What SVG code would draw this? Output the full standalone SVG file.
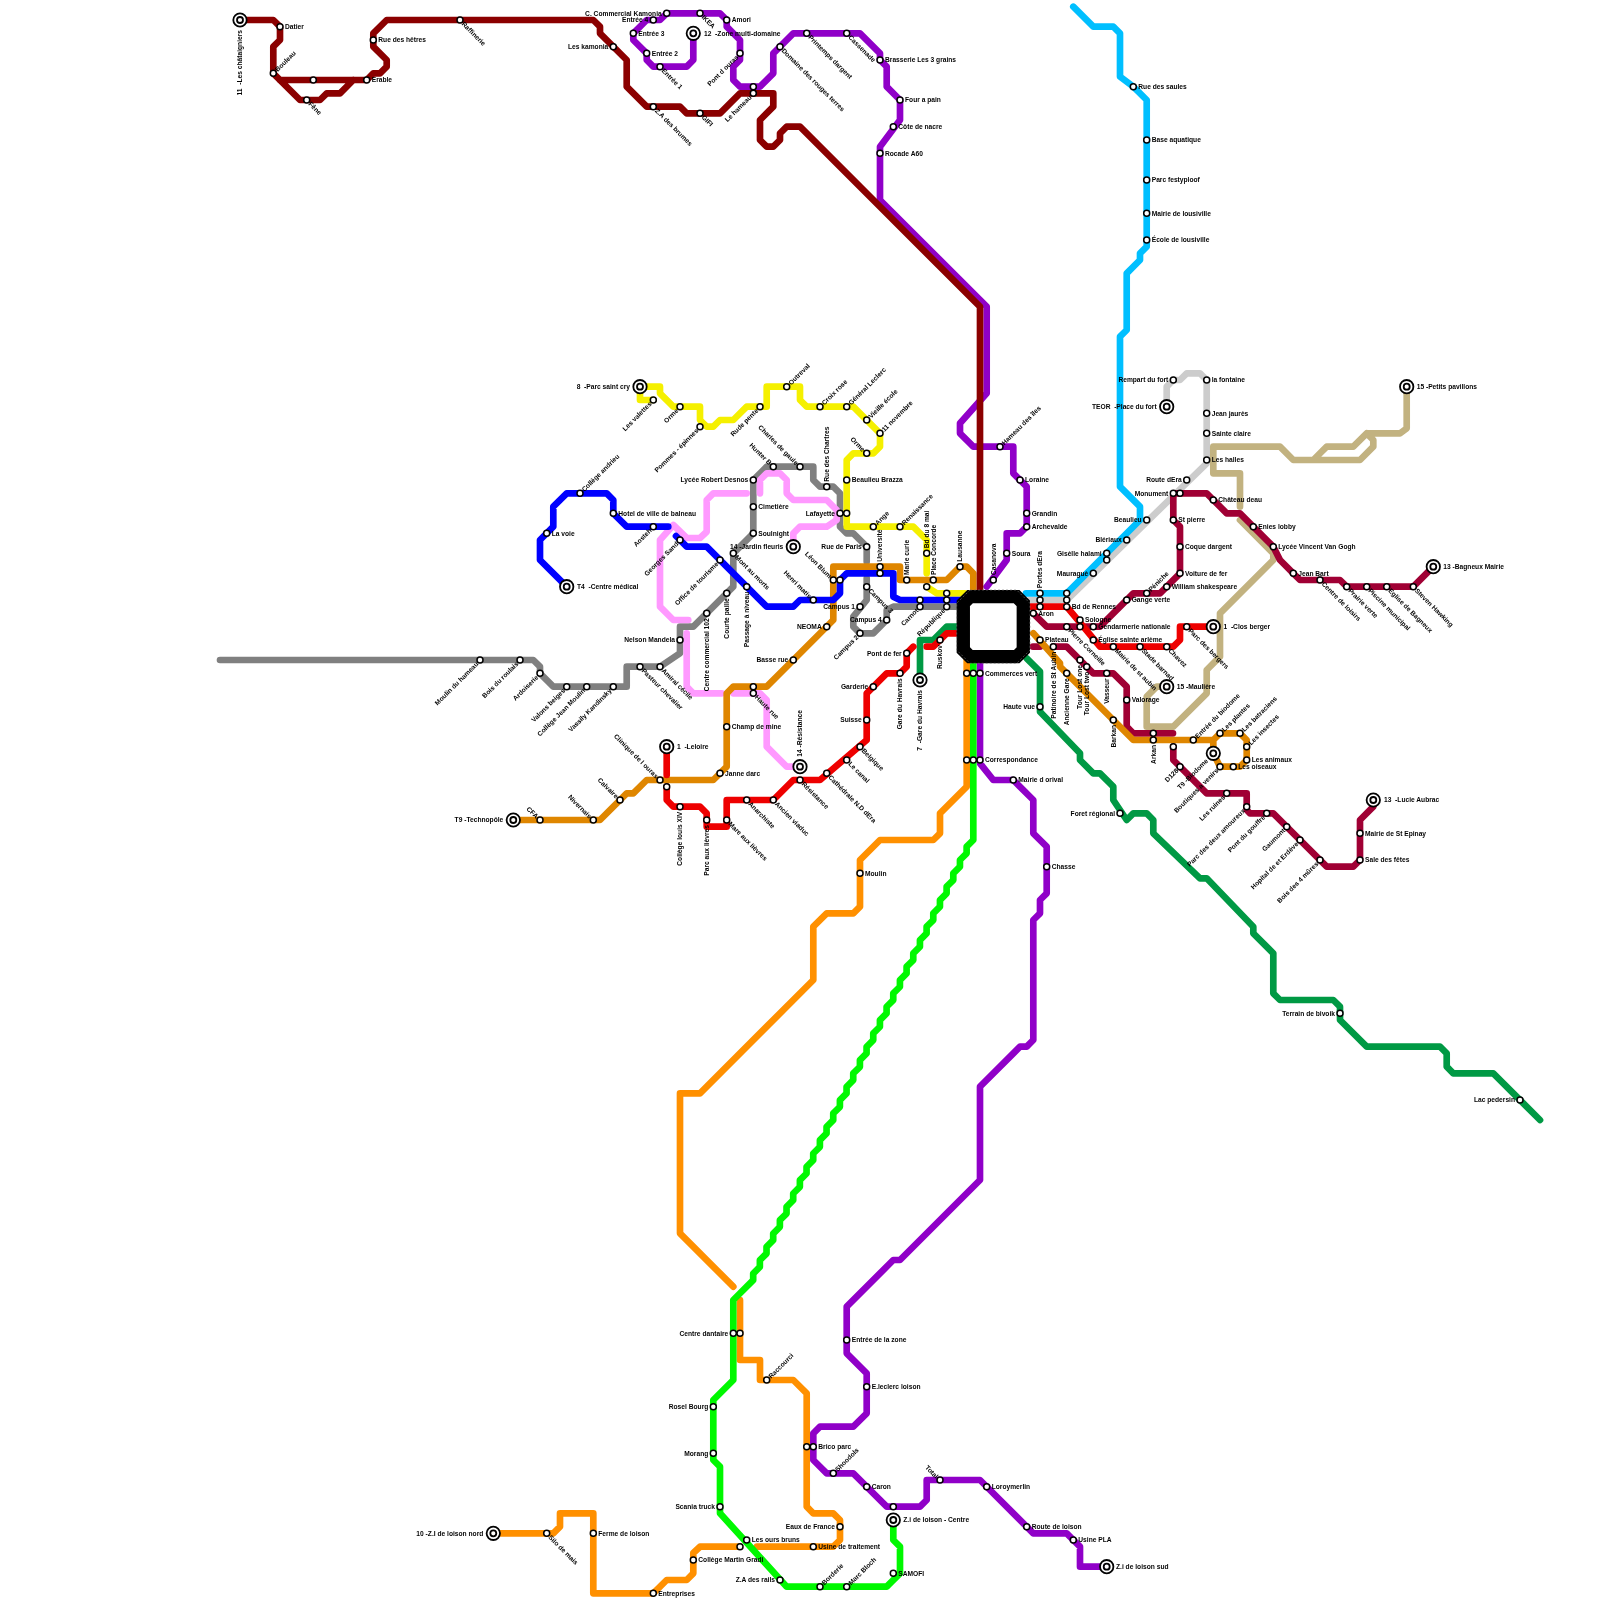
<svg xmlns="http://www.w3.org/2000/svg" width="1600" height="1600" viewBox="0 0 1600 1600">
<style>
text{font-family:"Liberation Sans",Arial,sans-serif;font-weight:bold;font-size:6.67px;fill:#000;white-space:pre}
g[id^="n-"]{opacity:.99}
.e{text-anchor:end}
.s{fill:#fff;stroke:#000;stroke-width:1.5}
.t{fill:#fff;stroke:#000;stroke-width:1.8}
#lines path{fill:none;stroke-width:6.67;stroke-linejoin:round;stroke-linecap:round}
.dr{stroke:#8b0000}.pu{stroke:#9000c8}.li{stroke:#00f800}.or{stroke:#ff9000}.ob{stroke:#df8600}.ye{stroke:#f5f000}.re{stroke:#ee0000}.cr{stroke:#a00034}.gr{stroke:#009944}.ta{stroke:#c2b280}.lb{stroke:#00bfff}.lg{stroke:#cccccc}.gy{stroke:#808080}.pk{stroke:#ff99ff}.bl{stroke:#0000ff}
</style>
<g id="lines">
<path class="gy" d="M220 660H533.3L540 666.7V673.3L553.3 686.7H626.7V666.7H660L680 653.3V626.7H693.3L733.3 586.7V553.3L753.3 533.3V480L766.7 466.7H813.3V480L820 486.7H833.3L840 493.3V526.7L846.7 533.3H853.3L866.7 546.7V561.7"/>
<path class="gy" d="M866.7 578V600L853.3 616.7V626.7L860 633.3H873.3L886.7 620V610L893.3 606.7H960"/>
<path class="lg" d="M1166.7 406.7V386.7L1173.3 380H1180L1186.7 373.3H1200L1206.7 380V463.3L1066.7 600H1030"/>
<path class="lb" d="M1073.3 6.7L1093.3 26.7H1113.3L1120 33.3V76.7L1133.3 86.7L1146.7 100V246.7L1140 253.3V260L1126.7 273.3V330L1120 336.7V486.7L1140 506.7V520L1066.7 593.3H1026"/>
<path class="pk" d="M746.7 493.3H713.3L706.7 500V531.7L700 538H686.7L673.3 525L660 540V606.7L673.3 620H688.3"/>
<path class="pk" d="M760 493.3V480L766.7 473.3H780L786.7 480V493.3L793.3 500H826.7L836.7 510V520L826.7 526.7H800L793.3 533.3V546.7"/>
<path class="pk" d="M686.7 633.3V686.7L693.3 693.3H721.7M733.3 693.3H760L766.7 700V746.7L786.7 766.7H800"/>
<path class="ta" d="M1406.7 386.7V428.3L1400 433.3H1366.7L1353.3 446.7H1326.7L1313.3 460H1360L1373.3 446.7V440L1366.7 433.3M1313.3 460H1293.3L1280 446.7H1213.3V473.3H1240V506.7"/>
<path class="ta" d="M1240 520L1273.3 553.3V560L1220 613.3V656.7L1206.7 670V693.3L1173.3 726.7H1146.7V696.7L1156.7 686.7H1166.7"/>
<path class="ye" d="M640 386.7H660V393.3L673.3 406.7H700V420L706.7 426.7H713.3L720 420H733.3L746.7 406.7H766.7V386.7H800V400L806.7 406.7H853.3L880 433.3V446.7L873.3 453.3H853.3L846.7 460V526.7H913.3L926.7 540V573.3"/>
<path class="ye" d="M640 386.7V400H653.3M926.7 586.7L936.7 593.3H965"/>
<path class="ob" d="M513.3 820H600L626.7 793.3H633.3L646.7 780H713.3L726.7 766.7V693.3L733.3 686.7H766.7L833.3 620V566.7H900V580H946.7L960 566.7H966.7L973.3 573.3V590"/>
<path class="bl" d="M566.7 586.7L540 560V540L553.3 526.7V506.7L566.7 493.3H606.7L613.3 500V513.3L626.7 526.7H668.3M676 536L686.7 546.7H706.7L766.7 606.7H793.3L800 600H833.3L840 593.3V580L846.7 573.3H893.3V596.7L900 600H960"/>
<path class="pu" d="M693.3 33.3V60L686.7 66.7H653.3L646.7 60V53.3L633.3 40V33.3L646.7 20H660L666.7 13.3H720L726.7 20V26.7L740 40V60L733.3 66.7V80L740 86.7H760L773.3 73.3V53.3L793.3 33.3H860L880 53.3V60L886.7 66.7V86.7L900 100V120L880 146.7V200L986.7 306.7V393.3L960 423.3V433.3L973.3 446.7H1013.3V473.3L1026.7 486.7V526.7L1020 533.3H1006.7V560L986.7 586.7"/>
<path class="pu" d="M980 660V763.3L993.3 780H1013.3L1033.3 800V833.3L1046.7 846.7V893.3L1040 900V913.3L1033.3 920V1040L1026.7 1046.7H1020L980 1086.7V1180L900 1260H893.3L846.7 1306.7V1353.3L866.7 1373.3V1413.3L853.3 1426.7H820L813.3 1433.3V1460L826.7 1473.3H853.3L886.7 1506.7H920L926.7 1500V1480H980L1033.3 1533.3H1066.7L1080 1546.7V1566.7H1106.7"/>
<path class="dr" d="M240 20H273.3L280 26.7V40L273.3 46.7V73.3L300 100H320L326.7 93.3H340L353.3 80M280 80H366.7L373.3 73.3H380L386.7 66.7V60L373.3 46.7V33.3L386.7 20H593.3L600 26.7V33.3L626.7 60V86.7L646.7 106.7H680L686.7 113.3H720L740 93.3H773.3V106.7L760 120V140L766.7 146.7H773.3L780 140V133.3L786.7 126.7H800L980 306.7V590"/>
<path class="or" d="M966.7 660V786.7L940 813.3V833.3L933.3 840H880L860 860V906.7L853.3 913.3H826.7L813.3 926.7V980L700 1093.3H680V1233.3L733.3 1286.7"/>
<path class="or" d="M740 1300V1360H760V1380H793.3L806.7 1393.3V1506.7L813.3 1513.3H833.3L840 1520V1540L833.3 1546.7H757M740 1546.7H700L693.3 1553V1573.3L686.7 1580H666.7L653.3 1593.3H593.3V1513.3H560V1526.7L553.3 1533.3H493.3"/>
<path class="li" d="M973.3 660V840l-6.67 6.67v6.67l-6.67 6.67v6.67l-6.67 6.67v6.67l-6.67 6.67v6.67l-6.67 6.67v6.67l-6.67 6.67v6.67l-6.67 6.67v6.67l-6.67 6.67v6.67l-6.67 6.67v6.67l-6.67 6.67v6.67l-6.67 6.67v6.67l-6.67 6.67v6.67l-6.67 6.67v6.67l-6.67 6.67v6.67l-6.67 6.67v6.67l-6.67 6.67v6.67l-6.67 6.67v6.67l-6.67 6.67v6.67l-6.67 6.67v6.67l-6.67 6.67v6.67l-6.67 6.67v6.67l-6.67 6.67v6.67l-6.67 6.67v6.67l-6.67 6.67v6.67l-6.67 6.67v6.67l-6.67 6.67v6.67l-6.67 6.67v6.67l-6.67 6.67v6.67l-6.67 6.67v6.67l-6.67 6.67v6.67l-6.67 6.67v6.67l-6.67 6.67v6.67l-6.67 6.67v6.67L733.3 1300V1380L713.3 1400V1460L720 1466.7V1513.3L786.7 1586.7H886.7L900 1573.3V1546.7L893.3 1540V1520"/>
<path class="gr" d="M920 680V640H933.3L946.7 626.7H960"/>
<path class="gr" d="M1026.7 658.3L1040 671.7V711.7L1080 753.3V760L1093.3 773.3H1100L1113.3 786.7V800L1126.7 820L1133.3 813.3H1146.7L1153.3 820V833.3L1200 878.3H1206.7L1253.3 926.7V933.3L1273.3 953.3V993.3L1280 1000H1333.3L1340 1006.7V1020L1366.7 1046.7H1440L1446.7 1053.3V1066.7L1453.3 1073.3H1493.3L1540 1120"/>
<path class="cr" d="M1433.3 566.7L1413.3 586.7H1346.7L1340 580H1300L1293.3 573.3L1280 560L1273.3 546.7L1240 513.3H1226.7L1206.7 493.3H1173.3V520L1180 526.7V573.3L1160 593.3H1133.3L1100 626.7H1046.7L1033.3 613.3"/>
<path class="cr" d="M1033 646.7H1040M1053.3 646.7H1066.7L1093.3 673.3H1113.3L1126.7 686.7V726.7L1133.3 733.3H1173"/>
<path class="cr" d="M1173.3 746.7V760L1206.7 793.3H1246.7V810L1250 813.3H1273.3L1326.7 866.7H1353.3L1360 860V820L1373.3 806.7V800"/>
<path class="ob" d="M1033.3 633.3L1060 663.3V666.7L1133.3 740H1213.3L1220 733.3H1240L1246.7 740V760L1240 766.7H1220L1213.3 753.3V740"/>
<path class="re" d="M666.7 746.7V775M666.7 786.7V800L673.3 806.7H700L706.7 813.3V826.7H726.7V800H773.3L793.3 780H820L866.7 740V693.3L886.7 673.3H900L906.7 666.7V653.3L913.3 646.7M926.7 646.7H933.3L946.7 633.3H960"/>
<path class="re" d="M1030 606.7H1066.7L1100 646.7H1173.3L1180 640V626.7H1213.3"/>
</g>
<g id="hub">
<path d="M970 596.7H1016.7L1023.3 603.3V650L1016.7 656.7H970L963.3 650V603.3Z" fill="none" stroke="#000" stroke-width="13.33" stroke-linejoin="miter"/>
<path d="M970 590H1016.7L1030 603.3V650L1016.7 663.3H970L956.7 650V603.3Z" fill="none" stroke="#777" stroke-width=".6" stroke-dasharray="2 2"/>
</g>
<g id="n-l11">
<g id="n1"><circle class="t" cx="240" cy="20" r="6.7"/><circle class="t" cx="240" cy="20" r="3"/><text transform="translate(240 20) rotate(-90)" class="e" x="-10" y="2.3">11  -Les châtaigniers</text></g>
<g id="n2"><circle class="s" cx="280" cy="26.7" r="3"/><text x="285" y="29">Datier</text></g>
<g id="n3"><circle class="s" cx="273.3" cy="73.3" r="3"/><text transform="translate(273.3 73.3) rotate(-45)" x="4" y="2.3">Bouleau</text></g>
<g id="n4"><circle class="s" cx="313.3" cy="80" r="3"/></g>
<g id="n5"><circle class="s" cx="306.7" cy="100" r="3"/><text transform="translate(306.7 100) rotate(45)" x="4" y="2.3">Fêne</text></g>
<g id="n6"><circle class="s" cx="366.7" cy="80" r="3"/><text x="371.7" y="82.3">Erable</text></g>
<g id="n7"><circle class="s" cx="373.3" cy="40" r="3"/><text x="378.3" y="42.3">Rue des hêtres</text></g>
<g id="n8"><circle class="s" cx="460" cy="20" r="3"/><text transform="translate(460 20) rotate(45)" x="4" y="2.3">Raffinerie</text></g>
<g id="n9"><circle class="s" cx="613.3" cy="46.7" r="3"/><text class="e" x="608.3" y="49">Les kamonia</text></g>
<g id="n10"><circle class="s" cx="653.3" cy="106.7" r="3"/><text transform="translate(653.3 106.7) rotate(45)" x="4" y="2.3">Z.A des brumes</text></g>
<g id="n11"><circle class="s" cx="700" cy="113.3" r="3"/><text transform="translate(700 113.3) rotate(45)" x="4" y="2.3">GIFI</text></g>
<g id="n12"><circle class="s" cx="753.3" cy="93.3" r="3"/><text transform="translate(753.3 93.3) rotate(-45)" class="e" x="-4" y="2.3">Le hameau</text></g>
</g>
<g id="n-l12">
<g id="n13"><circle class="t" cx="693.3" cy="33.3" r="6.7"/><circle class="t" cx="693.3" cy="33.3" r="3"/><text x="704" y="35.6">12  -Zone multi-domaine</text></g>
<g id="n14"><circle class="s" cx="660" cy="66.7" r="3"/><text transform="translate(660 66.7) rotate(45)" x="4" y="2.3">Entrée 1</text></g>
<g id="n15"><circle class="s" cx="646.7" cy="53.3" r="3"/><text x="651.7" y="55.6">Entrée 2</text></g>
<g id="n16"><circle class="s" cx="633.3" cy="33.3" r="3"/><text x="638.3" y="35.6">Entrée 3</text></g>
<g id="n17"><circle class="s" cx="653.3" cy="20" r="3"/><text class="e" x="648.3" y="22.3">Entrée 4</text></g>
<g id="n18"><circle class="s" cx="666.7" cy="13.3" r="3"/><text class="e" x="661.7" y="15.6">C. Commercial Kamonia</text></g>
<g id="n19"><circle class="s" cx="700" cy="13.3" r="3"/><text transform="translate(700 13.3) rotate(45)" x="4" y="2.3">IKEA</text></g>
<g id="n20"><circle class="s" cx="726.7" cy="20" r="3"/><text x="731.7" y="22.3">Amori</text></g>
<g id="n21"><circle class="s" cx="740" cy="53.3" r="3"/><text transform="translate(740 53.3) rotate(-45)" class="e" x="-4" y="2.3">Pont d ouras</text></g>
<g id="n22"><circle class="s" cx="753.3" cy="86.7" r="3"/></g>
<g id="n23"><circle class="s" cx="780" cy="46.7" r="3"/><text transform="translate(780 46.7) rotate(45)" x="4" y="2.3">Domaine des rouges terres</text></g>
<g id="n24"><circle class="s" cx="806.7" cy="33.3" r="3"/><text transform="translate(806.7 33.3) rotate(45)" x="4" y="2.3">Printemps dargent</text></g>
<g id="n25"><circle class="s" cx="846.7" cy="33.3" r="3"/><text transform="translate(846.7 33.3) rotate(45)" x="4" y="2.3">Cassenade</text></g>
<g id="n26"><circle class="s" cx="880" cy="60" r="3"/><text x="885" y="62.3">Brasserie Les 3 grains</text></g>
<g id="n27"><circle class="s" cx="900" cy="100" r="3"/><text x="905" y="102.3">Four a pain</text></g>
<g id="n28"><circle class="s" cx="893.3" cy="126.7" r="3"/><text x="898.3" y="129">Côte de nacre</text></g>
<g id="n29"><circle class="s" cx="880" cy="153.3" r="3"/><text x="885" y="155.6">Rocade A60</text></g>
<g id="n30"><circle class="s" cx="1000" cy="446.7" r="3"/><text transform="translate(1000 446.7) rotate(-45)" x="4" y="2.3">Hameau des îles</text></g>
<g id="n31"><circle class="s" cx="1020" cy="480" r="3"/><text x="1025" y="482.3">Loraine</text></g>
<g id="n32"><circle class="s" cx="1026.7" cy="513.3" r="3"/><text x="1031.7" y="515.6">Grandin</text></g>
<g id="n33"><circle class="s" cx="1026.7" cy="526.7" r="3"/><text x="1031.7" y="529">Archevalde</text></g>
<g id="n34"><circle class="s" cx="1006.7" cy="553.3" r="3"/><text x="1011.7" y="555.6">Soura</text></g>
<g id="n35"><circle class="s" cx="993.3" cy="580" r="3"/><text transform="translate(993.3 580) rotate(-90)" x="5" y="2.3">Casanova</text></g>
<g id="n36"><circle class="s" cx="980" cy="673.3" r="3"/><text x="985" y="675.6">Commerces vert</text></g>
<g id="n37"><circle class="s" cx="973.3" cy="673.3" r="3"/></g>
<g id="n38"><circle class="s" cx="966.7" cy="673.3" r="3"/></g>
<g id="n39"><circle class="s" cx="980" cy="760" r="3"/><text x="985" y="762.3">Correspondance</text></g>
<g id="n40"><circle class="s" cx="973.3" cy="760" r="3"/></g>
<g id="n41"><circle class="s" cx="966.7" cy="760" r="3"/></g>
<g id="n42"><circle class="s" cx="1013.3" cy="780" r="3"/><text x="1018.3" y="782.3">Mairie d orival</text></g>
<g id="n43"><circle class="s" cx="1046.7" cy="866.7" r="3"/><text x="1051.7" y="869">Chasse</text></g>
<g id="n44"><circle class="s" cx="860" cy="873.3" r="3"/><text x="865" y="875.6">Moulin</text></g>
</g>
<g id="n-south">
<g id="n45"><circle class="s" cx="733.3" cy="1333.3" r="3"/><text class="e" x="728.3" y="1335.6">Centre dantaire</text></g>
<g id="n46"><circle class="s" cx="740" cy="1333.3" r="3"/></g>
<g id="n47"><circle class="s" cx="846.7" cy="1340" r="3"/><text x="851.7" y="1342.3">Entrée de la zone</text></g>
<g id="n48"><circle class="s" cx="866.7" cy="1386.7" r="3"/><text x="871.7" y="1389">E.leclerc loison</text></g>
<g id="n49"><circle class="s" cx="766.7" cy="1380" r="3"/><text transform="translate(766.7 1380) rotate(-45)" x="4" y="2.3">Raccourci</text></g>
<g id="n50"><circle class="s" cx="713.3" cy="1406.7" r="3"/><text class="e" x="708.3" y="1409">Rosel Bourg</text></g>
<g id="n51"><circle class="s" cx="713.3" cy="1453.3" r="3"/><text class="e" x="708.3" y="1455.6">Morang</text></g>
<g id="n52"><circle class="s" cx="806.7" cy="1446.7" r="3"/></g>
<g id="n53"><circle class="s" cx="813.3" cy="1446.7" r="3"/><text x="818.3" y="1449">Brico parc</text></g>
<g id="n54"><circle class="s" cx="833.3" cy="1473.3" r="3"/><text transform="translate(833.3 1473.3) rotate(-45)" x="4" y="2.3">Shoodols</text></g>
<g id="n55"><circle class="s" cx="866.7" cy="1486.7" r="3"/><text x="871.7" y="1489">Caron</text></g>
<g id="n56"><circle class="s" cx="940" cy="1480" r="3"/><text transform="translate(940 1480) rotate(45)" class="e" x="-4" y="2.3">Total</text></g>
<g id="n57"><circle class="s" cx="986.7" cy="1486.7" r="3"/><text x="991.7" y="1489">Loroymerlin</text></g>
<g id="n58"><circle class="s" cx="1026.7" cy="1526.7" r="3"/><text x="1031.7" y="1529">Route de loison</text></g>
<g id="n59"><circle class="s" cx="1073.3" cy="1540" r="3"/><text x="1078.3" y="1542.3">Usine PLA</text></g>
<g id="n60"><circle class="t" cx="1106.7" cy="1566.7" r="6.7"/><circle class="t" cx="1106.7" cy="1566.7" r="3"/><text x="1116" y="1569">Z.i de loison sud</text></g>
<g id="n61"><circle class="s" cx="893.3" cy="1506.7" r="3"/></g>
<g id="n62"><circle class="t" cx="893.3" cy="1520" r="6.7"/><circle class="t" cx="893.3" cy="1520" r="3"/><text x="903.3" y="1522.3">Z.i de loison - Centre</text></g>
<g id="n63"><circle class="s" cx="893.3" cy="1573.3" r="3"/><text x="898.3" y="1575.6">SAMOFI</text></g>
<g id="n64"><circle class="s" cx="846.7" cy="1586.7" r="3"/><text transform="translate(846.7 1586.7) rotate(-45)" x="4" y="2.3">Marc Bloch</text></g>
<g id="n65"><circle class="s" cx="820" cy="1586.7" r="3"/><text transform="translate(820 1586.7) rotate(-45)" x="4" y="2.3">Borderie</text></g>
<g id="n66"><circle class="s" cx="780" cy="1580" r="3"/><text class="e" x="775" y="1582.3">Z.A des rails</text></g>
<g id="n67"><circle class="s" cx="840" cy="1526.7" r="3"/><text class="e" x="835" y="1529">Eaux de France</text></g>
<g id="n68"><circle class="s" cx="813.3" cy="1546.7" r="3"/><text x="818.3" y="1549">Usine de traitement</text></g>
<g id="n69"><circle class="s" cx="746.7" cy="1540" r="3"/><text x="751.7" y="1542.3">Les ours bruns</text></g>
<g id="n70"><circle class="s" cx="740" cy="1546.7" r="3"/></g>
<g id="n71"><circle class="s" cx="720" cy="1506.7" r="3"/><text class="e" x="715" y="1509">Scania truck</text></g>
<g id="n72"><circle class="s" cx="693.3" cy="1560" r="3"/><text x="698.3" y="1562.3">Collège Martin Gradi</text></g>
<g id="n73"><circle class="s" cx="653.3" cy="1593.3" r="3"/><text x="658.3" y="1595.6">Entreprises</text></g>
<g id="n74"><circle class="s" cx="593.3" cy="1533.3" r="3"/><text x="598.3" y="1535.6">Ferme de loison</text></g>
<g id="n75"><circle class="s" cx="546.7" cy="1533.3" r="3"/><text transform="translate(546.7 1533.3) rotate(45)" x="4" y="2.3">Silo de mais</text></g>
<g id="n76"><circle class="t" cx="493.3" cy="1533.3" r="6.7"/><circle class="t" cx="493.3" cy="1533.3" r="3"/><text class="e" x="483.3" y="1535.6">10 -Z.I de loison nord</text></g>
</g>
<g id="n-l8">
<g id="n77"><circle class="t" cx="640" cy="386.7" r="6.7"/><circle class="t" cx="640" cy="386.7" r="3"/><text class="e" x="630" y="389">8  -Parc saint cry</text></g>
<g id="n78"><circle class="s" cx="653.3" cy="400" r="3"/><text transform="translate(653.3 400) rotate(-45)" class="e" x="-4" y="2.3">Les valettes</text></g>
<g id="n79"><circle class="s" cx="680" cy="406.7" r="3"/><text transform="translate(680 406.7) rotate(-45)" class="e" x="-4" y="2.3">Orme</text></g>
<g id="n80"><circle class="s" cx="700" cy="426.7" r="3"/><text transform="translate(700 426.7) rotate(-45)" class="e" x="-4" y="2.3">Pommes - épinnes</text></g>
<g id="n81"><circle class="s" cx="760" cy="406.7" r="3"/><text transform="translate(760 406.7) rotate(-45)" class="e" x="-4" y="2.3">Rude pente</text></g>
<g id="n82"><circle class="s" cx="786.7" cy="386.7" r="3"/><text transform="translate(786.7 386.7) rotate(-45)" x="4" y="2.3">Outreval</text></g>
<g id="n83"><circle class="s" cx="820" cy="406.7" r="3"/><text transform="translate(820 406.7) rotate(-45)" x="4" y="2.3">Croix rose</text></g>
<g id="n84"><circle class="s" cx="846.7" cy="406.7" r="3"/><text transform="translate(846.7 406.7) rotate(-45)" x="4" y="2.3">Général Leclerc</text></g>
<g id="n85"><circle class="s" cx="866.7" cy="420" r="3"/><text transform="translate(866.7 420) rotate(-45)" x="4" y="2.3">Vieille école</text></g>
<g id="n86"><circle class="s" cx="880" cy="433.3" r="3"/><text transform="translate(880 433.3) rotate(-45)" x="4" y="2.3">11 novembre</text></g>
<g id="n87"><circle class="s" cx="866.7" cy="453.3" r="3"/><text transform="translate(866.7 453.3) rotate(45)" class="e" x="-4" y="2.3">Orme</text></g>
<g id="n88"><circle class="s" cx="846.7" cy="480" r="3"/><text x="851.7" y="482.3">Beaulieu Brazza</text></g>
<g id="n89"><circle class="s" cx="846.7" cy="513.3" r="3"/></g>
<g id="n90"><circle class="s" cx="873.3" cy="526.7" r="3"/><text transform="translate(873.3 526.7) rotate(-45)" x="4" y="2.3">Ange</text></g>
<g id="n91"><circle class="s" cx="900" cy="526.7" r="3"/><text transform="translate(900 526.7) rotate(-45)" x="4" y="2.3">Renaissance</text></g>
<g id="n92"><circle class="s" cx="926.7" cy="553.3" r="3"/><text transform="translate(926.7 553.3) rotate(-90)" x="5" y="2.3">Bd du 8 mai</text></g>
<g id="n93"><circle class="s" cx="926.7" cy="586.7" r="3"/></g>
<g id="n94"><circle class="s" cx="946.7" cy="593.3" r="3"/></g>
<g id="n95"><circle class="s" cx="946.7" cy="600" r="3"/></g>
<g id="n96"><circle class="s" cx="946.7" cy="606.7" r="3"/><text transform="translate(946.7 606.7) rotate(-45)" class="e" x="-4" y="2.3">République</text></g>
<g id="n97"><circle class="s" cx="920" cy="600" r="3"/></g>
<g id="n98"><circle class="s" cx="920" cy="606.7" r="3"/><text transform="translate(920 606.7) rotate(-45)" class="e" x="-4" y="2.3">Carnot</text></g>
<g id="n99"><circle class="s" cx="933.3" cy="580" r="3"/><text transform="translate(933.3 580) rotate(-90)" x="5" y="2.3">Place Concorde</text></g>
<g id="n100"><circle class="s" cx="906.7" cy="580" r="3"/><text transform="translate(906.7 580) rotate(-90)" x="5" y="2.3">Marie curie</text></g>
<g id="n101"><circle class="s" cx="960" cy="566.7" r="3"/><text transform="translate(960 566.7) rotate(-90)" x="5" y="2.3">Lausanne</text></g>
<g id="n102"><circle class="s" cx="880" cy="566.7" r="3"/><text transform="translate(880 566.7) rotate(-90)" x="5" y="2.3">Université</text></g>
<g id="n103"><circle class="s" cx="880" cy="573.3" r="3"/></g>
<g id="n104"><circle class="s" cx="866.7" cy="546.7" r="3"/><text class="e" x="861.7" y="549">Rue de Paris</text></g>
<g id="n105"><circle class="s" cx="833.3" cy="580" r="3"/><text transform="translate(833.3 580) rotate(45)" class="e" x="-4" y="2.3">Léon Blum</text></g>
<g id="n106"><circle class="s" cx="840" cy="580" r="3"/></g>
<g id="n107"><circle class="s" cx="813.3" cy="600" r="3"/><text transform="translate(813.3 600) rotate(45)" class="e" x="-4" y="2.3">Henri matis</text></g>
<g id="n108"><circle class="s" cx="860" cy="606.7" r="3"/><text class="e" x="855" y="609">Campus 1</text></g>
<g id="n109"><circle class="s" cx="866.7" cy="586.7" r="3"/><text transform="translate(866.7 586.7) rotate(45)" x="4" y="2.3">Campus 3</text></g>
<g id="n110"><circle class="s" cx="886.7" cy="620" r="3"/><text class="e" x="881.7" y="622.3">Campus 4</text></g>
<g id="n111"><circle class="s" cx="860" cy="633.3" r="3"/><text transform="translate(860 633.3) rotate(-45)" class="e" x="-4" y="2.3">Campus 2</text></g>
<g id="n112"><circle class="s" cx="826.7" cy="626.7" r="3"/><text class="e" x="821.7" y="629">NEOMA</text></g>
<g id="n113"><circle class="s" cx="793.3" cy="660" r="3"/><text class="e" x="788.3" y="662.3">Basse rue</text></g>
<g id="n114"><circle class="s" cx="753.3" cy="686.7" r="3"/></g>
<g id="n115"><circle class="s" cx="753.3" cy="693.3" r="3"/><text transform="translate(753.3 693.3) rotate(45)" x="4" y="2.3">Haute rue</text></g>
<g id="n116"><circle class="s" cx="726.7" cy="726.7" r="3"/><text x="731.7" y="729">Champ de mine</text></g>
<g id="n117"><circle class="s" cx="720" cy="773.3" r="3"/><text x="725" y="775.6">Janne darc</text></g>
<g id="n118"><circle class="s" cx="660" cy="780" r="3"/><text transform="translate(660 780) rotate(45)" class="e" x="-4" y="2.3">Clinique de l ouras</text></g>
<g id="n119"><circle class="s" cx="620" cy="800" r="3"/><text transform="translate(620 800) rotate(45)" class="e" x="-4" y="2.3">Calvaire</text></g>
<g id="n120"><circle class="s" cx="593.3" cy="820" r="3"/><text transform="translate(593.3 820) rotate(45)" class="e" x="-4" y="2.3">Nivernais</text></g>
<g id="n121"><circle class="s" cx="540" cy="820" r="3"/><text transform="translate(540 820) rotate(45)" class="e" x="-4" y="2.3">CFA</text></g>
<g id="n122"><circle class="t" cx="513.3" cy="820" r="6.7"/><circle class="t" cx="513.3" cy="820" r="3"/><text class="e" x="503.3" y="822.3">T9 -Technopôle</text></g>
</g>
<g id="n-l1">
<g id="n123"><circle class="t" cx="666.7" cy="746.7" r="6.7"/><circle class="t" cx="666.7" cy="746.7" r="3"/><text x="677" y="749">1  -Leloire</text></g>
<g id="n124"><circle class="s" cx="666.7" cy="786.7" r="3"/></g>
<g id="n125"><circle class="s" cx="680" cy="806.7" r="3"/><text transform="translate(680 806.7) rotate(-90)" class="e" x="-5" y="2.3">Collège louis XIV</text></g>
<g id="n126"><circle class="s" cx="706.7" cy="820" r="3"/><text transform="translate(706.7 820) rotate(-90)" class="e" x="-5" y="2.3">Parc aux lièvres</text></g>
<g id="n127"><circle class="s" cx="726.7" cy="820" r="3"/><text transform="translate(726.7 820) rotate(45)" x="4" y="2.3">Mare aux lièvres</text></g>
<g id="n128"><circle class="s" cx="746.7" cy="800" r="3"/><text transform="translate(746.7 800) rotate(45)" x="4" y="2.3">Anarchiste</text></g>
<g id="n129"><circle class="s" cx="773.3" cy="800" r="3"/><text transform="translate(773.3 800) rotate(45)" x="4" y="2.3">Ancien viaduc</text></g>
<g id="n130"><circle class="s" cx="800" cy="780" r="3"/><text transform="translate(800 780) rotate(45)" x="4" y="2.3">Résistance</text></g>
<g id="n131"><circle class="t" cx="800" cy="766.7" r="6.7"/><circle class="t" cx="800" cy="766.7" r="3"/><text transform="translate(800 766.7) rotate(-90)" x="10" y="2.3">14 -Résistance</text></g>
<g id="n132"><circle class="s" cx="826.7" cy="773.3" r="3"/><text transform="translate(826.7 773.3) rotate(45)" x="4" y="2.3">Cathédrale N.D dEra</text></g>
<g id="n133"><circle class="s" cx="846.7" cy="760" r="3"/><text transform="translate(846.7 760) rotate(45)" x="4" y="2.3">Le canal</text></g>
<g id="n134"><circle class="s" cx="860" cy="746.7" r="3"/><text transform="translate(860 746.7) rotate(45)" x="4" y="2.3">Belgique</text></g>
<g id="n135"><circle class="s" cx="866.7" cy="720" r="3"/><text class="e" x="861.7" y="722.3">Suisse</text></g>
<g id="n136"><circle class="s" cx="873.3" cy="686.7" r="3"/><text class="e" x="868.3" y="689">Garderie</text></g>
<g id="n137"><circle class="s" cx="900" cy="673.3" r="3"/><text transform="translate(900 673.3) rotate(-90)" class="e" x="-5" y="2.3">Gare du Havrais</text></g>
<g id="n138"><circle class="s" cx="906.7" cy="653.3" r="3"/><text class="e" x="901.7" y="655.6">Pont de fer</text></g>
<g id="n139"><circle class="s" cx="940" cy="640" r="3"/><text transform="translate(940 640) rotate(-90)" class="e" x="-5" y="2.3">Ruskov</text></g>
<g id="n140"><circle class="t" cx="920" cy="680" r="6.7"/><circle class="t" cx="920" cy="680" r="3"/><text transform="translate(920 680) rotate(-90)" class="e" x="-10" y="2.3">7  -Gare du Havrais</text></g>
</g>
<g id="n-west">
<g id="n141"><circle class="s" cx="480" cy="660" r="3"/><text transform="translate(480 660) rotate(-45)" class="e" x="-4" y="2.3">Moulin du hameau</text></g>
<g id="n142"><circle class="s" cx="520" cy="660" r="3"/><text transform="translate(520 660) rotate(-45)" class="e" x="-4" y="2.3">Bois du roulais</text></g>
<g id="n143"><circle class="s" cx="540" cy="673.3" r="3"/><text transform="translate(540 673.3) rotate(-45)" class="e" x="-4" y="2.3">Ardoiserie</text></g>
<g id="n144"><circle class="s" cx="566.7" cy="686.7" r="3"/><text transform="translate(566.7 686.7) rotate(-45)" class="e" x="-4" y="2.3">Valons beiges</text></g>
<g id="n145"><circle class="s" cx="586.7" cy="686.7" r="3"/><text transform="translate(586.7 686.7) rotate(-45)" class="e" x="-4" y="2.3">Collège Jean Moulin</text></g>
<g id="n146"><circle class="s" cx="613.3" cy="686.7" r="3"/><text transform="translate(613.3 686.7) rotate(-45)" class="e" x="-4" y="2.3">Vassily Kandinsky</text></g>
<g id="n147"><circle class="s" cx="640" cy="666.7" r="3"/><text transform="translate(640 666.7) rotate(45)" x="4" y="2.3">Pasteur chevalier</text></g>
<g id="n148"><circle class="s" cx="660" cy="666.7" r="3"/><text transform="translate(660 666.7) rotate(45)" x="4" y="2.3">Amiral cécile</text></g>
<g id="n149"><circle class="s" cx="680" cy="640" r="3"/><text class="e" x="675" y="642.3">Nelson Mandela</text></g>
<g id="n150"><circle class="s" cx="706.7" cy="613.3" r="3"/><text transform="translate(706.7 613.3) rotate(-90)" class="e" x="-5" y="2.3">Centre commercial 102</text></g>
<g id="n151"><circle class="s" cx="726.7" cy="593.3" r="3"/><text transform="translate(726.7 593.3) rotate(-90)" class="e" x="-5" y="2.3">Courte paille</text></g>
<g id="n152"><circle class="s" cx="746.7" cy="586.7" r="3"/><text transform="translate(746.7 586.7) rotate(-90)" class="e" x="-5" y="2.3">Passage à niveau</text></g>
<g id="n153"><circle class="s" cx="720" cy="560" r="3"/><text transform="translate(720 560) rotate(-45)" class="e" x="-4" y="2.3">Office de tourisme</text></g>
<g id="n154"><circle class="s" cx="733.3" cy="553.3" r="3"/><text transform="translate(733.3 553.3) rotate(45)" x="4" y="2.3">Mont au morts</text></g>
<g id="n155"><circle class="s" cx="680" cy="540" r="3"/><text transform="translate(680 540) rotate(-45)" class="e" x="-4" y="2.3">Georges Sand</text></g>
<g id="n156"><circle class="s" cx="653.3" cy="526.7" r="3"/><text transform="translate(653.3 526.7) rotate(-45)" class="e" x="-4" y="2.3">Aosteh</text></g>
<g id="n157"><circle class="s" cx="613.3" cy="513.3" r="3"/><text x="618.3" y="515.6">Hotel de ville de balneau</text></g>
<g id="n158"><circle class="s" cx="580" cy="493.3" r="3"/><text transform="translate(580 493.3) rotate(-45)" x="4" y="2.3">Collège andrieu</text></g>
<g id="n159"><circle class="s" cx="546.7" cy="533.3" r="3"/><text x="551.7" y="535.6">La voie</text></g>
<g id="n160"><circle class="t" cx="566.7" cy="586.7" r="6.7"/><circle class="t" cx="566.7" cy="586.7" r="3"/><text x="577" y="589">T4  -Centre médical</text></g>
<g id="n161"><circle class="s" cx="753.3" cy="533.3" r="3"/><text x="758.3" y="535.6">Soulnight</text></g>
<g id="n162"><circle class="s" cx="753.3" cy="506.7" r="3"/><text x="758.3" y="509">Cimetière</text></g>
<g id="n163"><circle class="s" cx="753.3" cy="480" r="3"/><text class="e" x="748.3" y="482.3">Lycée Robert Desnos</text></g>
<g id="n164"><circle class="s" cx="773.3" cy="466.7" r="3"/><text transform="translate(773.3 466.7) rotate(45)" class="e" x="-4" y="2.3">Hunter B</text></g>
<g id="n165"><circle class="s" cx="800" cy="466.7" r="3"/><text transform="translate(800 466.7) rotate(45)" class="e" x="-4" y="2.3">Charles de gaule</text></g>
<g id="n166"><circle class="s" cx="826.7" cy="486.7" r="3"/><text transform="translate(826.7 486.7) rotate(-90)" x="5" y="2.3">Rue des Chartres</text></g>
<g id="n167"><circle class="s" cx="840" cy="513.3" r="3"/><text class="e" x="835" y="515.6">Lafayette</text></g>
<g id="n168"><circle class="t" cx="793.3" cy="546.7" r="6.7"/><circle class="t" cx="793.3" cy="546.7" r="3"/><text class="e" x="783.3" y="549">14 -Jardin fleuris</text></g>
</g>
<g id="n-east">
<g id="n169"><circle class="s" cx="1133.3" cy="86.7" r="3"/><text x="1138.3" y="89">Rue des saules</text></g>
<g id="n170"><circle class="s" cx="1146.7" cy="140" r="3"/><text x="1151.7" y="142.3">Base aquatique</text></g>
<g id="n171"><circle class="s" cx="1146.7" cy="180" r="3"/><text x="1151.7" y="182.3">Parc festyploof</text></g>
<g id="n172"><circle class="s" cx="1146.7" cy="213.3" r="3"/><text x="1151.7" y="215.6">Mairie de lousiville</text></g>
<g id="n173"><circle class="s" cx="1146.7" cy="240" r="3"/><text x="1151.7" y="242.3">École de lousiville</text></g>
<g id="n174"><circle class="s" cx="1173.3" cy="380" r="3"/><text class="e" x="1168.3" y="382.3">Rempart du fort</text></g>
<g id="n175"><circle class="t" cx="1166.7" cy="406.7" r="6.7"/><circle class="t" cx="1166.7" cy="406.7" r="3"/><text class="e" x="1156.7" y="409">TEOR  -Place du fort</text></g>
<g id="n176"><circle class="s" cx="1206.7" cy="380" r="3"/><text x="1211.7" y="382.3">la fontaine</text></g>
<g id="n177"><circle class="s" cx="1206.7" cy="413.3" r="3"/><text x="1211.7" y="415.6">Jean jaurès</text></g>
<g id="n178"><circle class="s" cx="1206.7" cy="433.3" r="3"/><text x="1211.7" y="435.6">Sainte claire</text></g>
<g id="n179"><circle class="s" cx="1206.7" cy="460" r="3"/><text x="1211.7" y="462.3">Les halles</text></g>
<g id="n180"><circle class="s" cx="1186.7" cy="480" r="3"/><text class="e" x="1181.7" y="482.3">Route dEra</text></g>
<g id="n181"><circle class="s" cx="1173.3" cy="493.3" r="3"/><text class="e" x="1168.3" y="495.6">Monument</text></g>
<g id="n182"><circle class="s" cx="1180" cy="493.3" r="3"/></g>
<g id="n183"><circle class="s" cx="1173.3" cy="520" r="3"/><text x="1178.3" y="522.3">St pierre</text></g>
<g id="n184"><circle class="s" cx="1180" cy="546.7" r="3"/><text x="1185" y="549">Coque dargent</text></g>
<g id="n185"><circle class="s" cx="1180" cy="573.3" r="3"/><text x="1185" y="575.6">Voiture de fer</text></g>
<g id="n186"><circle class="s" cx="1166.7" cy="586.7" r="3"/><text x="1171.7" y="589">William shakespeare</text></g>
<g id="n187"><circle class="s" cx="1146.7" cy="593.3" r="3"/><text transform="translate(1146.7 593.3) rotate(-45)" x="4" y="2.3">Péniche</text></g>
<g id="n188"><circle class="s" cx="1126.7" cy="600" r="3"/><text x="1131.7" y="602.3">Gange verte</text></g>
<g id="n189"><circle class="s" cx="1213.3" cy="500" r="3"/><text x="1218.3" y="502.3">Château deau</text></g>
<g id="n190"><circle class="s" cx="1253.3" cy="526.7" r="3"/><text x="1258.3" y="529">Enies lobby</text></g>
<g id="n191"><circle class="s" cx="1273.3" cy="546.7" r="3"/><text x="1278.3" y="549">Lycée Vincent Van Gogh</text></g>
<g id="n192"><circle class="s" cx="1293.3" cy="573.3" r="3"/><text x="1298.3" y="575.6">Jean Bart</text></g>
<g id="n193"><circle class="s" cx="1320" cy="580" r="3"/><text transform="translate(1320 580) rotate(45)" x="4" y="2.3">Centre de loisirs</text></g>
<g id="n194"><circle class="s" cx="1346.7" cy="586.7" r="3"/><text transform="translate(1346.7 586.7) rotate(45)" x="4" y="2.3">Prairie verte</text></g>
<g id="n195"><circle class="s" cx="1366.7" cy="586.7" r="3"/><text transform="translate(1366.7 586.7) rotate(45)" x="4" y="2.3">Piscine municipal</text></g>
<g id="n196"><circle class="s" cx="1386.7" cy="586.7" r="3"/><text transform="translate(1386.7 586.7) rotate(45)" x="4" y="2.3">Eglise de Bagneux</text></g>
<g id="n197"><circle class="s" cx="1413.3" cy="586.7" r="3"/><text transform="translate(1413.3 586.7) rotate(45)" x="4" y="2.3">Steven Hawking</text></g>
<g id="n198"><circle class="t" cx="1433.3" cy="566.7" r="6.7"/><circle class="t" cx="1433.3" cy="566.7" r="3"/><text x="1443.3" y="569">13 -Bagneux Mairie</text></g>
<g id="n199"><circle class="t" cx="1406.7" cy="386.7" r="6.7"/><circle class="t" cx="1406.7" cy="386.7" r="3"/><text x="1416.7" y="389">15 -Petits pavillons</text></g>
<g id="n200"><circle class="s" cx="1146.7" cy="520" r="3"/><text class="e" x="1141.7" y="522.3">Beaulieu</text></g>
<g id="n201"><circle class="s" cx="1126.7" cy="540" r="3"/><text class="e" x="1121.7" y="542.3">Blériaux</text></g>
<g id="n202"><circle class="s" cx="1106.7" cy="553.3" r="3"/><text class="e" x="1101.7" y="555.6">Gisèlle halami</text></g>
<g id="n203"><circle class="s" cx="1106.7" cy="560" r="3"/></g>
<g id="n204"><circle class="s" cx="1093.3" cy="573.3" r="3"/><text class="e" x="1088.3" y="575.6">Mauraguè</text></g>
<g id="n205"><circle class="s" cx="1040" cy="593.3" r="3"/><text transform="translate(1040 593.3) rotate(-90)" x="5" y="2.3">Portes dEra</text></g>
<g id="n206"><circle class="s" cx="1040" cy="600" r="3"/></g>
<g id="n207"><circle class="s" cx="1040" cy="606.7" r="3"/></g>
<g id="n208"><circle class="s" cx="1066.7" cy="593.3" r="3"/></g>
<g id="n209"><circle class="s" cx="1066.7" cy="600" r="3"/></g>
<g id="n210"><circle class="s" cx="1066.7" cy="606.7" r="3"/><text x="1071.7" y="609">Bd de Rennes</text></g>
<g id="n211"><circle class="s" cx="1033.3" cy="613.3" r="3"/><text x="1038.3" y="615.6">Aron</text></g>
<g id="n212"><circle class="s" cx="1080" cy="620" r="3"/><text x="1085" y="622.3">Sologne</text></g>
<g id="n213"><circle class="s" cx="1080" cy="626.7" r="3"/></g>
<g id="n214"><circle class="s" cx="1093.3" cy="626.7" r="3"/><text x="1098.3" y="629">Gendarmerie nationale</text></g>
<g id="n215"><circle class="s" cx="1066.7" cy="626.7" r="3"/><text transform="translate(1066.7 626.7) rotate(45)" x="4" y="2.3">Pierre Corneille</text></g>
<g id="n216"><circle class="s" cx="1093.3" cy="640" r="3"/><text x="1098.3" y="642.3">Église sainte arlème</text></g>
<g id="n217"><circle class="s" cx="1113.3" cy="646.7" r="3"/><text transform="translate(1113.3 646.7) rotate(45)" x="4" y="2.3">Mairie de st aubin</text></g>
<g id="n218"><circle class="s" cx="1140" cy="646.7" r="3"/><text transform="translate(1140 646.7) rotate(45)" x="4" y="2.3">Stade barnad</text></g>
<g id="n219"><circle class="s" cx="1166.7" cy="646.7" r="3"/><text transform="translate(1166.7 646.7) rotate(45)" x="4" y="2.3">Chavez</text></g>
<g id="n220"><circle class="s" cx="1186.7" cy="626.7" r="3"/><text transform="translate(1186.7 626.7) rotate(45)" x="4" y="2.3">Parc des bergers</text></g>
<g id="n221"><circle class="t" cx="1213.3" cy="626.7" r="6.7"/><circle class="t" cx="1213.3" cy="626.7" r="3"/><text x="1223.5" y="629">1  -Clos berger</text></g>
<g id="n222"><circle class="s" cx="1040" cy="640" r="3"/><text x="1045" y="642.3">Plateau</text></g>
<g id="n223"><circle class="s" cx="1053.3" cy="646.7" r="3"/><text transform="translate(1053.3 646.7) rotate(-90)" class="e" x="-5" y="2.3">Patinoire de St Aubin</text></g>
<g id="n224"><circle class="s" cx="1066.7" cy="673.3" r="3"/><text transform="translate(1066.7 673.3) rotate(-90)" class="e" x="-5" y="2.3">Ancienne Gare</text></g>
<g id="n225"><circle class="s" cx="1080" cy="660" r="3"/><text transform="translate(1080 660) rotate(-90)" class="e" x="-5" y="2.3">Tour Lost one</text></g>
<g id="n226"><circle class="s" cx="1086.7" cy="666.7" r="3"/><text transform="translate(1086.7 666.7) rotate(-90)" class="e" x="-5" y="2.3">Tour Lost two</text></g>
<g id="n227"><circle class="s" cx="1106.7" cy="673.3" r="3"/><text transform="translate(1106.7 673.3) rotate(-90)" class="e" x="-5" y="2.3">Vasseur</text></g>
<g id="n228"><circle class="s" cx="1126.7" cy="700" r="3"/><text x="1131.7" y="702.3">Valorage</text></g>
<g id="n229"><circle class="s" cx="1113.3" cy="720" r="3"/><text transform="translate(1113.3 720) rotate(-90)" class="e" x="-5" y="2.3">Barkan</text></g>
<g id="n230"><circle class="s" cx="1153.3" cy="733.3" r="3"/></g>
<g id="n231"><circle class="s" cx="1153.3" cy="740" r="3"/><text transform="translate(1153.3 740) rotate(-90)" class="e" x="-5" y="2.3">Arkan</text></g>
<g id="n232"><circle class="t" cx="1166.7" cy="686.7" r="6.7"/><circle class="t" cx="1166.7" cy="686.7" r="3"/><text x="1176.7" y="689">15 -Maulière</text></g>
<g id="n233"><circle class="s" cx="1040" cy="706.7" r="3"/><text class="e" x="1035" y="709">Haute vue</text></g>
<g id="n234"><circle class="s" cx="1193.3" cy="740" r="3"/><text transform="translate(1193.3 740) rotate(-45)" x="4" y="2.3">Entrée du biodome</text></g>
<g id="n235"><circle class="s" cx="1220" cy="733.3" r="3"/><text transform="translate(1220 733.3) rotate(-45)" x="4" y="2.3">Les plantes</text></g>
<g id="n236"><circle class="s" cx="1240" cy="733.3" r="3"/><text transform="translate(1240 733.3) rotate(-45)" x="4" y="2.3">Les batraciens</text></g>
<g id="n237"><circle class="s" cx="1246.7" cy="746.7" r="3"/><text transform="translate(1246.7 746.7) rotate(-45)" x="4" y="2.3">Les insectes</text></g>
<g id="n238"><circle class="s" cx="1246.7" cy="760" r="3"/><text x="1251.7" y="762.3">Les animaux</text></g>
<g id="n239"><circle class="s" cx="1233.3" cy="766.7" r="3"/><text x="1238.3" y="769">Les oiseaux</text></g>
<g id="n240"><circle class="s" cx="1220" cy="766.7" r="3"/><text transform="translate(1220 766.7) rotate(-45)" class="e" x="-4" y="2.3">Boutiques a venirs</text></g>
<g id="n241"><circle class="t" cx="1213.3" cy="753.3" r="6.7"/><circle class="t" cx="1213.3" cy="753.3" r="3"/><text transform="translate(1213.3 753.3) rotate(-45)" class="e" x="-9" y="2.3">T9 -Biodome</text></g>
<g id="n242"><circle class="s" cx="1173.3" cy="746.7" r="3"/></g>
<g id="n243"><circle class="s" cx="1180" cy="766.7" r="3"/><text transform="translate(1180 766.7) rotate(-45)" class="e" x="-4" y="2.3">D128</text></g>
<g id="n244"><circle class="s" cx="1226.7" cy="793.3" r="3"/><text transform="translate(1226.7 793.3) rotate(-45)" class="e" x="-4" y="2.3">Les ruines</text></g>
<g id="n245"><circle class="s" cx="1246.7" cy="806.7" r="3"/><text transform="translate(1246.7 806.7) rotate(-45)" class="e" x="-4" y="2.3">Parc des deux amoureux</text></g>
<g id="n246"><circle class="s" cx="1266.7" cy="813.3" r="3"/><text transform="translate(1266.7 813.3) rotate(-45)" class="e" x="-4" y="2.3">Pont du gouffre</text></g>
<g id="n247"><circle class="s" cx="1286.7" cy="826.7" r="3"/><text transform="translate(1286.7 826.7) rotate(-45)" class="e" x="-4" y="2.3">Gaumont</text></g>
<g id="n248"><circle class="s" cx="1300" cy="840" r="3"/><text transform="translate(1300 840) rotate(-45)" class="e" x="-4" y="2.3">Hopital de et Erdève</text></g>
<g id="n249"><circle class="s" cx="1320" cy="860" r="3"/><text transform="translate(1320 860) rotate(-45)" class="e" x="-4" y="2.3">Bois des 4 mûres</text></g>
<g id="n250"><circle class="s" cx="1360" cy="860" r="3"/><text x="1365" y="862.3">Sale des fêtes</text></g>
<g id="n251"><circle class="s" cx="1360" cy="833.3" r="3"/><text x="1365" y="835.6">Mairie de St Epinay</text></g>
<g id="n252"><circle class="t" cx="1373.3" cy="800" r="6.7"/><circle class="t" cx="1373.3" cy="800" r="3"/><text x="1384" y="802.3">13  -Lucie Aubrac</text></g>
<g id="n253"><circle class="s" cx="1120" cy="813.3" r="3"/><text class="e" x="1115" y="815.6">Foret régional</text></g>
<g id="n254"><circle class="s" cx="1340" cy="1013.3" r="3"/><text class="e" x="1335" y="1015.6">Terrain de bivoik</text></g>
<g id="n255"><circle class="s" cx="1520" cy="1100" r="3"/><text class="e" x="1515" y="1102.3">Lac pedersin</text></g>
</g>
</svg>
